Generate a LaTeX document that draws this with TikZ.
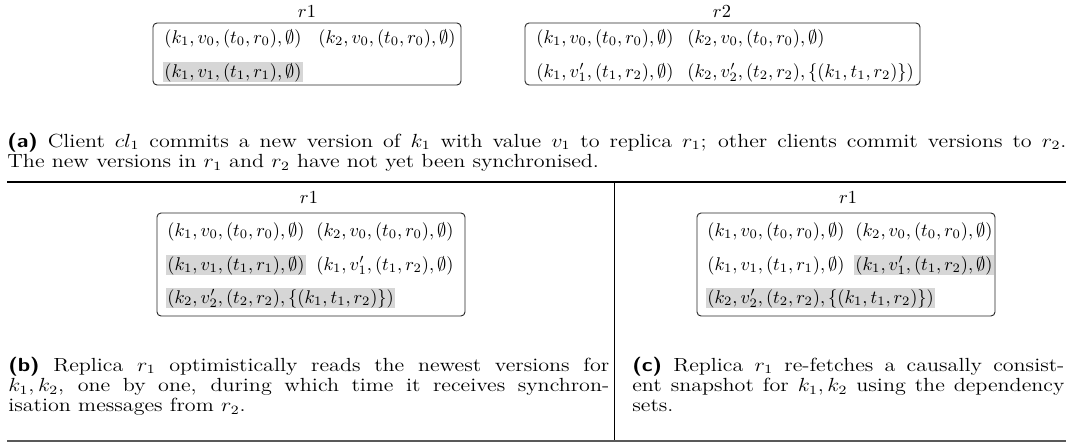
\documentclass[tikz,border=0pt]{standalone}
\usepackage{graphicx}
\usetikzlibrary{fit}
\definecolor{hlgray}{gray}{0.84}
\newcommand{\captfont}{\fontsize{12}{12.9}\selectfont}
\newcommand{\capbox}[2]{\scalebox{1}[0.86]{\parbox[t]{#1}{\captfont #2}}}
\tikzset{
  x=0.543pt, y=-0.543pt,
  replica/.style={draw=black!85, rounded corners=2.2pt, line width=0.5pt, inner sep=0pt},
  entry/.style={anchor=base west, inner xsep=0.6pt, inner ysep=0.4pt},
  hl/.style={entry, fill=hlgray},
  rlabel/.style={anchor=base, inner sep=0pt},
  capt/.style={anchor=base west, inner sep=0pt},
  toprule/.style={line width=0.7pt},
  midrule/.style={line width=0.5pt},
  botrule/.style={line width=1pt, draw=black!65},
}
\newcommand{\capl}[1]{\textsf{\bfseries (#1)}}
\begin{document}
\begin{tikzpicture}
\useasboundingbox (0,0) rectangle (1075,443);
% ---------- (a) ----------
\coordinate (aTL) at (153,23); \coordinate (aBR) at (461,85);
\node[replica, fit=(aTL)(aBR)] (boxA) {};
\node[rlabel] (labA) at (307,17) {$r1$};
\node[entry] (a11) at (163,43) {$(k_1, v_0, (t_0, r_0), \emptyset)$};
\node[entry] (a12) at (317,43) {$(k_2, v_0, (t_0, r_0), \emptyset)$};
\node[hl]    (a21) at (163,77) {$(k_1, v_1, (t_1, r_1), \emptyset)$};

\coordinate (bTL) at (525,23); \coordinate (bBR) at (920,85);
\node[replica, fit=(bTL)(bBR)] (boxB) {};
\node[rlabel] (labB) at (722,17) {$r2$};
\node[entry] (b11) at (535,43) {$(k_1, v_0, (t_0, r_0), \emptyset)$};
\node[entry] (b12) at (686,43) {$(k_2, v_0, (t_0, r_0), \emptyset)$};
\node[entry] (b21) at (535,77) {$(k_1, v_1', (t_1, r_2), \emptyset)$};
\node[entry] (b22) at (686,77) {$(k_2, v_2', (t_2, r_2), \{(k_1, t_1, r_2)\})$};

\node[capt] (capA) at (7,147) {\capbox{575pt}{\capl{a} Client $cl_1$ commits a new version of $k_1$ with value $v_1$ to replica $r_1$; other clients commit versions to $r_2$.\linebreak The new versions in $r_1$ and $r_2$ have not yet been synchronised.}};

% ---------- rules ----------
\draw[toprule] (7,182) -- (1066,182);
\draw[midrule] (614,182) -- (614,441);
\draw[botrule] (7,441) -- (1066,441);

% ---------- (b) ----------
\coordinate (cTL) at (157,213); \coordinate (cBR) at (465,316);
\node[replica, fit=(cTL)(cBR)] (boxC) {};
\node[rlabel] (labC) at (309,203) {$r1$};
\node[entry] (c11) at (166,236) {$(k_1, v_0, (t_0, r_0), \emptyset)$};
\node[entry] (c12) at (315,236) {$(k_2, v_0, (t_0, r_0), \emptyset)$};
\node[hl]    (c21) at (166,270) {$(k_1, v_1, (t_1, r_1), \emptyset)$};
\node[entry] (c22) at (315,270) {$(k_1, v_1', (t_1, r_2), \emptyset)$};
\node[hl]    (c31) at (166,303) {$(k_2, v_2', (t_2, r_2), \{(k_1, t_1, r_2)\})$};

\node[capt] (capB) at (8,371) {\capbox{326.3pt}{\capl{b} Replica $r_1$ optimistically reads the newest versions for\linebreak $k_1, k_2$, one by one, during which time it receives synchron-\linebreak isation messages from $r_2$.}};

% ---------- (c) ----------
\coordinate (dTL) at (697,213); \coordinate (dBR) at (995,316);
\node[replica, fit=(dTL)(dBR)] (boxD) {};
\node[rlabel] (labD) at (848,203) {$r1$};
\node[entry] (d11) at (706,236) {$(k_1, v_0, (t_0, r_0), \emptyset)$};
\node[entry] (d12) at (854,236) {$(k_2, v_0, (t_0, r_0), \emptyset)$};
\node[entry] (d21) at (706,270) {$(k_1, v_1, (t_1, r_1), \emptyset)$};
\node[hl]    (d22) at (854,270) {$(k_1, v_1', (t_1, r_2), \emptyset)$};
\node[hl]    (d31) at (706,303) {$(k_2, v_2', (t_2, r_2), \{(k_1, t_1, r_2)\})$};

\node[capt] (capC) at (632,371) {\capbox{234.6pt}{\capl{c} Replica $r_1$ re-fetches a causally consist-\linebreak ent snapshot for $k_1, k_2$ using the dependency\linebreak sets.}};
\end{tikzpicture}
\end{document}
